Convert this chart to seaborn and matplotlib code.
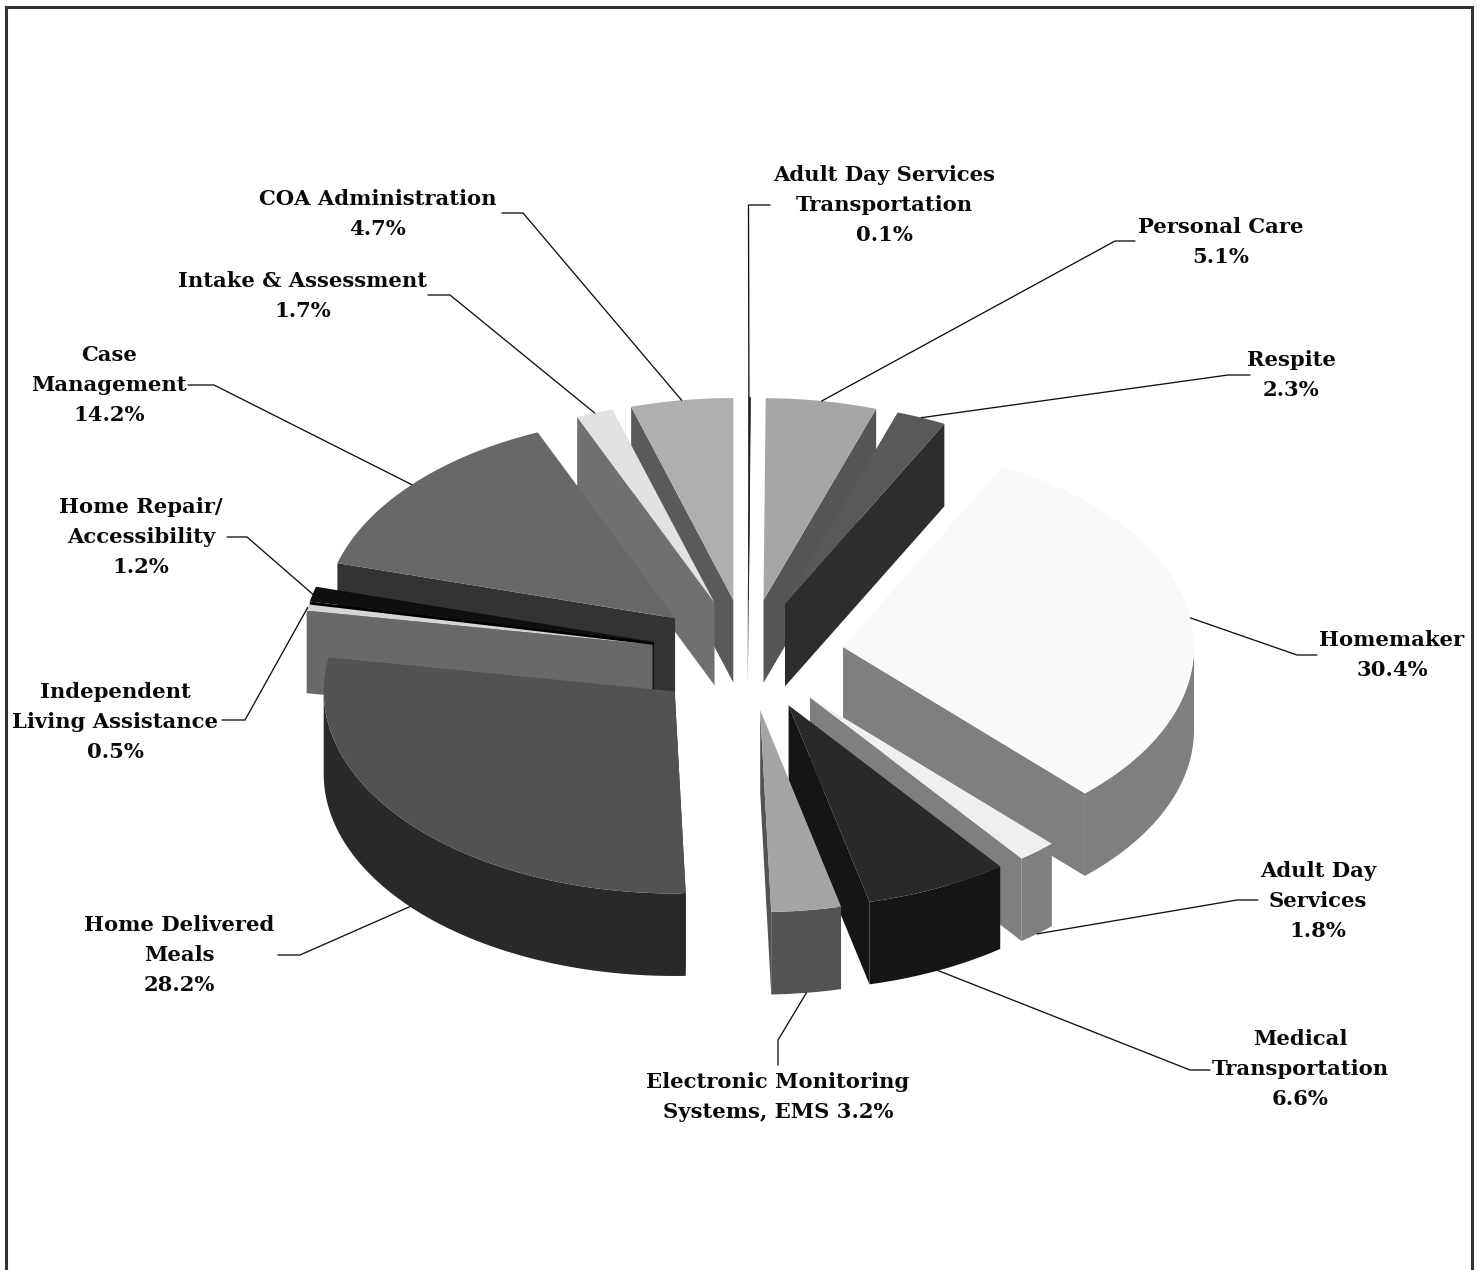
import numpy as np
import pandas as pd
import matplotlib
matplotlib.use("Agg")
import matplotlib.pyplot as plt
import seaborn as sns

# ---- data (clockwise from 12 o'clock) ----
services = ["Adult Day Services\nTransportation", "Personal Care", "Respite", "Homemaker",
            "Adult Day\nServices", "Medical\nTransportation", "Electronic Monitoring\nSystems, EMS",
            "Home Delivered\nMeals", "Independent\nLiving Assistance", "Home Repair/\nAccessibility",
            "Case\nManagement", "Intake & Assessment", "COA Administration"]
shares = [0.1, 5.1, 2.3, 30.4, 1.8, 6.6, 3.2, 28.2, 0.5, 1.2, 14.2, 1.7, 4.7]
top_colors = ["#222222", "#a6a6a6", "#595959", "#f9f9f9", "#efefef", "#292929", "#a5a5a5",
              "#525252", "#d5d5d5", "#0f0f0f", "#686868", "#e2e2e2", "#afafaf"]
wall_colors = ["#222222", "#555555", "#2d2d2d", "#7f7f7f", "#7f7f7f", "#151515", "#535353",
               "#292929", "#696969", "#000000", "#333333", "#707070", "#5a5a5a"]

# ---- layout ----
label_xy = [(884, 205), (1221, 242), (1291, 375), (1392, 655), (1318, 901), (1300, 1069), (778, 1097),
            (179, 955), (115, 722), (141, 537), (109, 385), (303, 296), (378, 214)]
elbows = [[(748.5, 205), (770, 205)], [(1115, 241), (1135, 241)], [(1228, 375), (1250, 375)],
          [(1297, 655), (1317, 655)], [(1237, 900), (1258, 900)], [(1190, 1070), (1210, 1070)],
          [(778, 1040), (778, 1065)], [(300, 955), (278, 955)], [(245, 720), (222, 720)],
          [(247, 537), (227, 537)], [(214, 385), (188, 385)], [(450, 295), (428, 295)],
          [(523, 213), (502, 213)]]
CX, CY, RX, RY, DEPTH, EXPLODE = 747.5, 655, 351, 202, 82.5, 0.275
FONT = "DejaVu Serif"
FONT_SIZE = 15.2

sns.set_theme(style="white")
df = pd.DataFrame({"service": services, "share": shares, "top": top_colors, "wall": wall_colors})
df["end"] = df["share"].cumsum() / df["share"].sum() * 2 * np.pi
df["start"] = df["end"].shift(fill_value=0.0)
df["mid"] = (df["start"] + df["end"]) / 2
df["label_xy"] = label_xy
df["elbow"] = elbows

fig = plt.figure(figsize=(14.83, 12.70), dpi=100, facecolor="white")
ax = fig.add_axes([6 / 1483, 0, (1472 - 6) / 1483, (1270 - 7) / 1270])
ax.set_xlim(6, 1472)
ax.set_ylim(1270, 7)
ax.set_xticks([])
ax.set_yticks([])
sns.despine(ax=ax, bottom=True, top=False, left=False, right=False)
for s in ("left", "top", "right"):
    ax.spines[s].set_linewidth(2.2)
    ax.spines[s].set_color("#333333")


def rim(ax0, ay0, theta):
    return ax0 + RX * np.sin(theta), ay0 - RY * np.cos(theta)


# back-to-front painter's order
for _, w in df.sort_values("mid", key=lambda m: -np.cos(m)).iterrows():
    ax0, ay0 = rim(CX, CY, w["mid"])
    ax0 = CX + EXPLODE * (ax0 - CX)
    ay0 = CY + EXPLODE * (ay0 - CY)
    s, e = w["start"], w["end"]

    # radial wall facing the viewer
    edge = e if np.sin(w["mid"]) > 0 else s
    ex, ey = rim(ax0, ay0, edge)
    ax.fill([ax0, ex, ex, ax0], [ay0, ey, ey + DEPTH, ay0 + DEPTH], color=w["wall"], lw=0, zorder=2)

    # outer wall: only the front half of the rim shows
    lo, hi = max(s, np.pi / 2), min(e, 3 * np.pi / 2)
    if hi > lo:
        t = np.linspace(lo, hi, 120)
        x, y = rim(ax0, ay0, t)
        ax.fill(np.r_[x, x[::-1]], np.r_[y, y[::-1] + DEPTH], color=w["wall"], lw=0, zorder=2)

    # top face
    t = np.linspace(s, e, 200)
    x, y = rim(ax0, ay0, t)
    thin = w["share"] < 0.3
    ax.fill(np.r_[ax0, x], np.r_[ay0, y], facecolor=w["top"], edgecolor=w["top"],
            lw=0.5 if thin else 0, zorder=2)

    # leader line from the rim (bottom edge for front slices)
    px, py = rim(ax0, ay0, w["mid"])
    if np.cos(w["mid"]) < 0:
        py += DEPTH
    pts = [(px, py)] + list(w["elbow"])
    ax.plot(*zip(*pts), color="#111111", lw=0.95, zorder=3, solid_joinstyle="miter")

    # label
    sep = " " if "EMS" in w["service"] else "\n"
    ax.text(*w["label_xy"], f"{w['service']}{sep}{w['share']:.1f}%", ha="center", va="center",
            multialignment="center", family=FONT, weight="bold", fontsize=FONT_SIZE,
            color="#0a0a0a", linespacing=1.62, zorder=4)

fig.savefig("out.png", dpi=100, facecolor="white")
